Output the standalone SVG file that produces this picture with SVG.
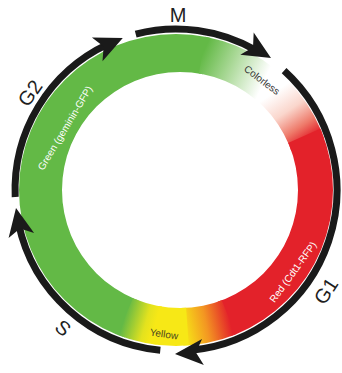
<svg xmlns="http://www.w3.org/2000/svg" width="342" height="373" viewBox="0 0 342 373">
<style>
.arc{fill:none;stroke:#1a1a1a;stroke-width:7;stroke-linecap:butt}
.head{fill:#1a1a1a}
.phase{font-family:"Liberation Sans",Arial,sans-serif;font-size:20px;fill:#1f1f1f;text-anchor:middle}
.inner{font-family:"Liberation Sans",Arial,sans-serif;font-size:10px;text-anchor:middle}
</style>
<defs>
<clipPath id="ringClip">
<path clip-rule="evenodd" d="M19,190 A157,156 0 1 0 333,190 A157,156 0 1 0 19,190 Z M62,190 A118,118 0 1 1 298,190 A118,118 0 1 1 62,190 Z"/>
</clipPath>
<linearGradient id="gW" gradientUnits="userSpaceOnUse" x1="202.1" y1="55.1" x2="263.6" y2="82.5">
<stop offset="0" stop-color="#63b946"/><stop offset="0.45" stop-color="#a9d896"/><stop offset="1" stop-color="#ffffff"/>
</linearGradient>
<linearGradient id="wR" gradientUnits="userSpaceOnUse" x1="274.6" y1="92.0" x2="306.9" y2="139.9">
<stop offset="0" stop-color="#ffffff"/><stop offset="0.4" stop-color="#fad6cc"/><stop offset="0.75" stop-color="#ee7a6a"/><stop offset="1" stop-color="#e3222a"/>
</linearGradient>
<linearGradient id="rY" gradientUnits="userSpaceOnUse" x1="230.1" y1="320.9" x2="182.9" y2="330.9">
<stop offset="0" stop-color="#e3222a"/><stop offset="0.5" stop-color="#f39622"/><stop offset="1" stop-color="#f7e816"/>
</linearGradient>
<linearGradient id="yG" gradientUnits="userSpaceOnUse" x1="153.9" y1="328.9" x2="123.7" y2="320.0">
<stop offset="0" stop-color="#f7e816"/><stop offset="0.3" stop-color="#e3e21e"/><stop offset="1" stop-color="#63b946"/>
</linearGradient>
<path id="ah" d="M0,0 L-28,-13 L-21,0 L-28,13 Z"/>
</defs>
<rect width="342" height="373" fill="#ffffff"/>
<g id="ring" clip-path="url(#ringClip)">
<path fill="#63b946" d="M178,192 L109.6,379.9 A200,200 0 0 1 219.6,-3.6 Z"/>
<path fill="url(#gW)" d="M178,192 L212.7,-5.0 A200,200 0 0 1 306.6,38.8 Z"/>
<path fill="url(#wR)" d="M178,192 L312,44 A200,200 0 0 1 365.9,123.6 Z"/>
<path fill="#e3222a" d="M178,192 L360.7,110.7 A200,200 0 0 1 246.4,379.9 Z"/>
<path fill="url(#rY)" d="M178,192 L252.9,377.4 A200,200 0 0 1 185.0,391.9 Z"/>
<path fill="#f7e816" d="M178,192 L192.0,391.5 A200,200 0 0 1 143.3,389.0 Z"/>
<path fill="url(#yG)" d="M178,192 L150.2,390.1 A200,200 0 0 1 99.9,376.1 Z"/>
</g>
<g id="connectors">
<path id="arc-M" class="arc" d="M135.7,34.1 A161,161 0 0 1 256.5,50.6"/>
<path id="arc-G1" class="arc" d="M284.1,70.7 A161,161 0 0 1 190.0,350.4"/>
<path id="arc-S" class="arc" d="M160.3,350.2 A161,161 0 0 1 18.5,223.5"/>
<path id="arc-G2" class="arc" d="M15.2,197.0 A161,161 0 0 1 108.0,44.1"/>
<use href="#ah" class="head" transform="translate(271,58) rotate(31)"/>
<use href="#ah" class="head" transform="translate(175,354) rotate(176)"/>
<use href="#ah" class="head" transform="translate(16,208) rotate(259)"/>
<use href="#ah" class="head" transform="translate(122.8,38) rotate(336)"/>
</g>
<g id="label-M"><text class="phase" x="178" y="22">M</text></g>
<g id="label-G2"><text class="phase" transform="translate(30,93) rotate(-55)" y="7">G2</text></g>
<g id="label-G1"><text class="phase" transform="translate(326,291) rotate(-57)" y="7">G1</text></g>
<g id="label-S"><text class="phase" transform="translate(63,328) rotate(40)" y="7">S</text></g>
<g id="label-green"><text class="inner" fill="#ffffff" transform="translate(65,128) rotate(-59)" y="3.5">Green (geminin-GFP)</text></g>
<g id="label-colorless"><text class="inner" fill="#333333" transform="translate(262,80) rotate(37)" y="3.5">Colorless</text></g>
<g id="label-red"><text class="inner" fill="#ffffff" transform="translate(293,272) rotate(-54)" y="3.5">Red (Cdt1-RFP)</text></g>
<g id="label-yellow"><text class="inner" fill="#4a4620" transform="translate(164,334) rotate(8)" y="3.5">Yellow</text></g>
</svg>
